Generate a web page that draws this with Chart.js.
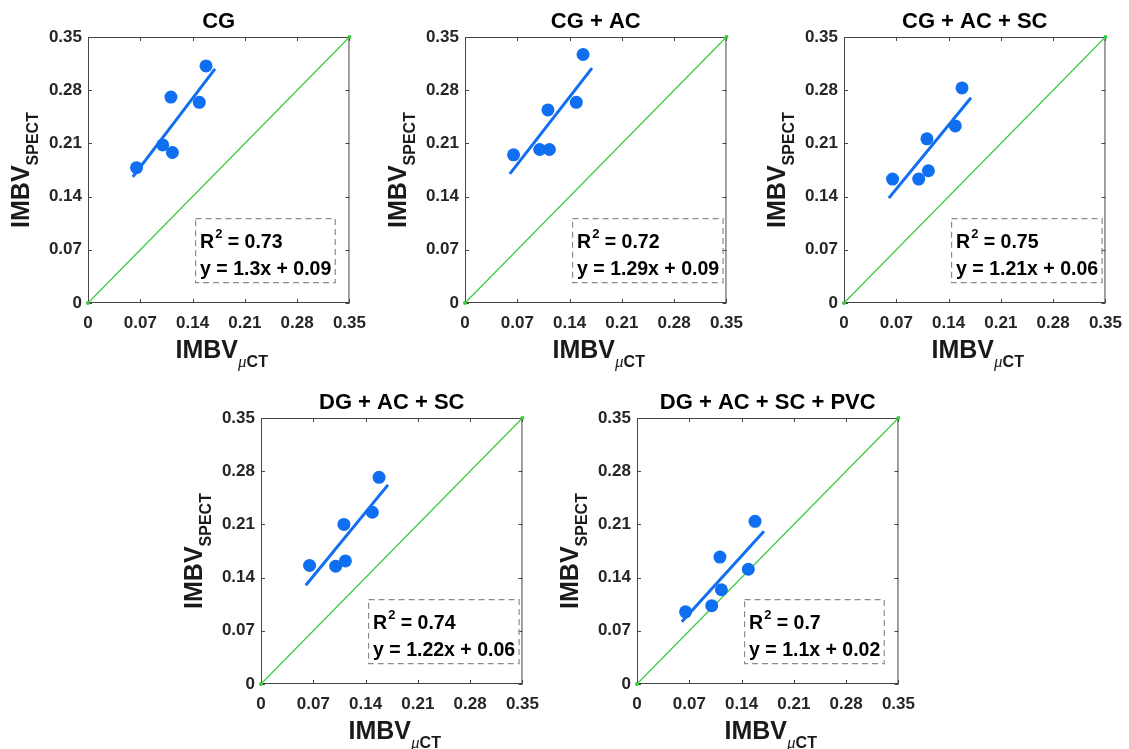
<!DOCTYPE html>
<html>
<head>
<meta charset="utf-8">
<script src="https://cdn.jsdelivr.net/npm/chart.js@4.4.1/dist/chart.umd.min.js"></script>
<style>
  html, body { margin: 0; padding: 0; background: #fff; overflow: hidden; }
  #wrap { position: relative; width: 1129px; height: 749px; }
  #wrap canvas { position: absolute; }
</style>
</head>
<body>
<div id="wrap"></div>
<script>
// ---- data ----
const axisTicks = [0, 0.07, 0.14, 0.21, 0.28, 0.35];
const panelTitles = ['CG', 'CG + AC', 'CG + AC + SC', 'DG + AC + SC', 'DG + AC + SC + PVC'];

// IMBV from micro-CT (same 6 animals in every panel)
const imbvCT = [0.065, 0.100, 0.113, 0.111, 0.149, 0.158];

// IMBV from SPECT, one array per reconstruction
const spectCG        = [0.178, 0.208, 0.198, 0.271, 0.264, 0.312];
const spectCGAC      = [0.195, 0.202, 0.202, 0.254, 0.264, 0.327];
const spectCGACSC    = [0.163, 0.163, 0.174, 0.216, 0.233, 0.283];
const spectDGACSC    = [0.156, 0.155, 0.162, 0.210, 0.226, 0.272];
const spectDGACSCPVC = [0.095, 0.103, 0.124, 0.167, 0.151, 0.214];

// regression line end points
const fitX = [0.06, 0.17];
const fitCG        = [0.166, 0.308];
const fitCGAC      = [0.170, 0.309];
const fitCGACSC    = [0.138, 0.270];
const fitDGACSC    = [0.130, 0.262];
const fitDGACSCPVC = [0.082, 0.201];

const r2Values = ['0.73', '0.72', '0.75', '0.74', '0.7'];
const fitEquations = ['y = 1.3x + 0.09', 'y = 1.29x + 0.09', 'y = 1.21x + 0.06', 'y = 1.22x + 0.06', 'y = 1.1x + 0.02'];

// line of identity
const identityLine = [0, 0.35];

const spectSeries = [spectCG, spectCGAC, spectCGACSC, spectDGACSC, spectDGACSCPVC];
const fitSeries = [fitCG, fitCGAC, fitCGACSC, fitDGACSC, fitDGACSCPVC];

// ---- layout / style ----
const FONT = '"Liberation Sans", Arial, Helvetica, sans-serif';
const BLUE = '#106ef0';
const GREEN = '#3acb3a';
const PLOT = 266;           // plot square size in px
const LEFT_W = 88;          // room for y ticks + title
const TOP_H = 37;           // room for panel title
const RIGHT_PAD = 22;
const plotOrigins = [[88, 37], [465, 37], [844, 37], [261, 418], [637, 418]];

const panelDecor = {
    id: 'panelDecor',
    beforeDatasetsDraw(chart) {
        const { ctx, chartArea: a, scales: { x, y } } = chart;
        ctx.save();
        ctx.strokeStyle = '#454545';
        ctx.lineWidth = 1;
        ctx.strokeRect(a.left + 0.5, a.top + 0.5, a.right - a.left - 1, a.bottom - a.top - 1);
        ctx.beginPath();
        axisTicks.forEach(v => {
            const px = Math.round(x.getPixelForValue(v)) + 0.5;
            const py = Math.round(y.getPixelForValue(v)) + 0.5;
            ctx.moveTo(px, a.bottom); ctx.lineTo(px, a.bottom - 4);
            ctx.moveTo(px, a.top); ctx.lineTo(px, a.top + 4);
            ctx.moveTo(a.left, py); ctx.lineTo(a.left + 4, py);
            ctx.moveTo(a.right, py); ctx.lineTo(a.right - 4, py);
        });
        ctx.stroke();
        ctx.restore();
    },
    afterDatasetsDraw(chart, args, opts) {
        const { ctx, scales: { x, y } } = chart;
        const bx = x.getPixelForValue(0.144);
        const bTop = y.getPixelForValue(0.111);
        const bBot = y.getPixelForValue(0.0267);
        const tx = bx + 4.5;
        ctx.save();
        ctx.font = `bold 19.5px ${FONT}`;
        const wR = ctx.measureText('R').width;
        const wEq = ctx.measureText(opts.eq).width;
        const wRest = ctx.measureText(' = ' + opts.r2).width;
        ctx.font = `bold 13px ${FONT}`;
        const w2 = ctx.measureText('2').width;
        const w1 = wR + 1 + w2 + wRest;
        const bRight = tx + Math.max(w1, wEq) + 4;

        ctx.setLineDash([6, 4]);
        ctx.strokeStyle = '#8c8c8c';
        ctx.lineWidth = 1.2;
        ctx.strokeRect(bx, bTop, bRight - bx, bBot - bTop);
        ctx.setLineDash([]);

        ctx.fillStyle = '#000';
        ctx.textAlign = 'left';
        ctx.textBaseline = 'alphabetic';
        ctx.font = `bold 19.5px ${FONT}`;
        ctx.fillText('R', tx, bTop + 29.5);
        ctx.fillText(' = ' + opts.r2, tx + wR + 1 + w2, bTop + 29.5);
        ctx.fillText(opts.eq, tx, bTop + 56);
        ctx.font = `bold 13px ${FONT}`;
        ctx.fillText('2', tx + wR + 1, bTop + 19);
        ctx.restore();
    },
    afterDraw(chart, args, opts) {
        const { ctx, chartArea: a } = chart;
        const cx = (a.left + a.right) / 2;
        const cy = (a.top + a.bottom) / 2;
        ctx.save();
        ctx.fillStyle = '#000';
        ctx.textBaseline = 'alphabetic';

        // panel title
        ctx.font = `bold 22px ${FONT}`;
        ctx.textAlign = 'center';
        ctx.fillText(opts.title, cx, a.top - 9);

        ctx.textAlign = 'left';
        ctx.fillStyle = '#1a1a1a';
        // x axis title: IMBV_{muCT}
        ctx.font = `bold 25px ${FONT}`;
        const wMain = ctx.measureText('IMBV').width;
        ctx.font = `italic 17px "Liberation Serif", serif`;
        const wMu = ctx.measureText('\u03bc').width;
        ctx.font = `bold 16px ${FONT}`;
        const wCT = ctx.measureText('CT').width;
        const sx = cx - (wMain + wMu + wCT) / 2 + 3;
        const xb = a.bottom + 54.5;
        ctx.font = `bold 25px ${FONT}`;
        ctx.fillText('IMBV', sx, xb);
        ctx.font = `italic 17px "Liberation Serif", serif`;
        ctx.fillText('\u03bc', sx + wMain, xb + 9);
        ctx.font = `bold 16px ${FONT}`;
        ctx.fillText('CT', sx + wMain + wMu, xb + 9);

        // y axis title: IMBV_{SPECT}
        const wSp = ctx.measureText('SPECT').width;
        ctx.translate(a.left - 59.5, cy);
        ctx.rotate(-Math.PI / 2);
        const sy = -(wMain + wSp) / 2;
        ctx.font = `bold 25px ${FONT}`;
        ctx.fillText('IMBV', sy, 0);
        ctx.font = `bold 16px ${FONT}`;
        ctx.fillText('SPECT', sy + wMain, 9.5);
        ctx.restore();
    }
};

function tickLabel(v) {
    return v === 0 ? '0' : v.toFixed(2);
}

function buildPanel(i) {
    const [pl, pt] = plotOrigins[i];
    const left = pl - LEFT_W;
    const top = pt - TOP_H;
    const w = LEFT_W + PLOT + RIGHT_PAD;
    const h = Math.min(372, 749 - top);
    const xAxisH = h - TOP_H - PLOT;

    const canvas = document.createElement('canvas');
    canvas.width = w;
    canvas.height = h;
    canvas.style.left = left + 'px';
    canvas.style.top = top + 'px';
    canvas.style.width = w + 'px';
    canvas.style.height = h + 'px';
    document.getElementById('wrap').appendChild(canvas);

    const tickFont = { family: FONT, size: 17, weight: 'bold' };
    const setTicks = s => { s.ticks = axisTicks.map(v => ({ value: v })); };

    new Chart(canvas.getContext('2d'), {
        type: 'scatter',
        data: {
            datasets: [
                {
                    label: 'data',
                    data: imbvCT.map((v, k) => ({ x: v, y: spectSeries[i][k] })),
                    backgroundColor: BLUE,
                    borderColor: BLUE,
                    borderWidth: 0,
                    pointRadius: 6.5,
                    clip: false
                },
                {
                    type: 'line',
                    label: 'fit',
                    data: fitX.map((v, k) => ({ x: v, y: fitSeries[i][k] })),
                    borderColor: BLUE,
                    backgroundColor: BLUE,
                    borderWidth: 3,
                    pointRadius: 0,
                    fill: false,
                    clip: false
                },
                {
                    type: 'line',
                    label: 'identity',
                    data: identityLine.map(v => ({ x: v, y: v })),
                    borderColor: GREEN,
                    backgroundColor: GREEN,
                    borderWidth: 1.2,
                    pointRadius: 2,
                    pointBorderWidth: 0,
                    pointBackgroundColor: GREEN,
                    fill: false,
                    clip: false
                }
            ]
        },
        options: {
            responsive: false,
            animation: false,
            devicePixelRatio: 1,
            layout: { padding: { top: TOP_H, right: RIGHT_PAD, left: 0, bottom: 0 } },
            plugins: {
                legend: { display: false },
                tooltip: { enabled: false },
                panelDecor: { title: panelTitles[i], r2: r2Values[i], eq: fitEquations[i] }
            },
            scales: {
                x: {
                    type: 'linear',
                    min: 0,
                    max: 0.35,
                    grid: { display: false, drawTicks: false },
                    border: { display: false },
                    ticks: { font: tickFont, color: '#262626', padding: 10, maxRotation: 0, autoSkip: false, callback: tickLabel },
                    afterBuildTicks: setTicks,
                    afterFit: s => { s.height = xAxisH; }
                },
                y: {
                    type: 'linear',
                    min: 0,
                    max: 0.35,
                    grid: { display: false, drawTicks: false },
                    border: { display: false },
                    ticks: { font: tickFont, color: '#262626', padding: 6, autoSkip: false, callback: tickLabel },
                    afterBuildTicks: setTicks,
                    afterFit: s => { s.width = LEFT_W; }
                }
            }
        },
        plugins: [panelDecor]
    });
}

panelTitles.forEach((t, i) => buildPanel(i));
</script>
</body>
</html>
